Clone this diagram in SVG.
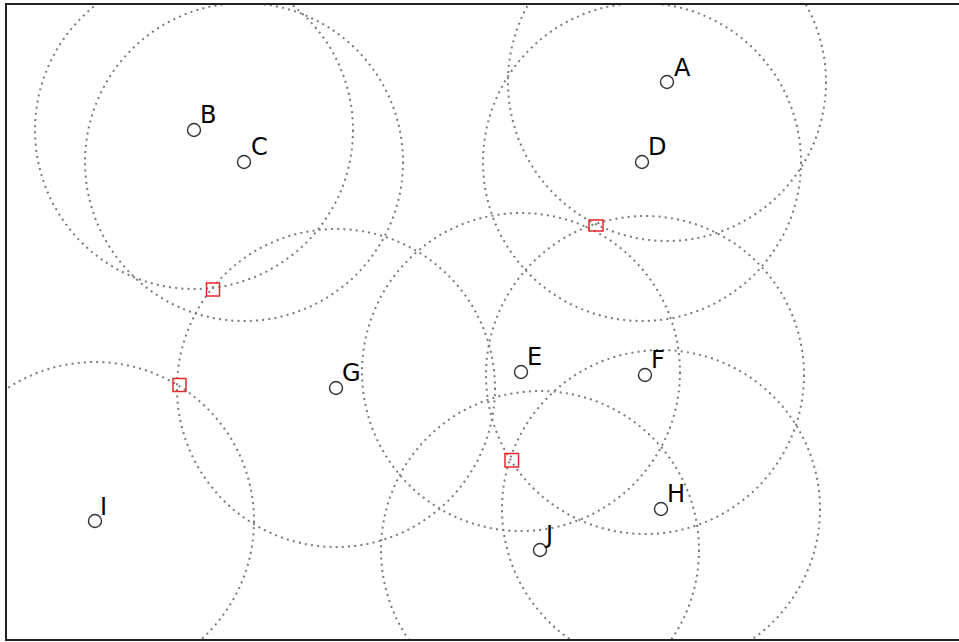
<svg xmlns="http://www.w3.org/2000/svg" width="959" height="642" viewBox="0 0 959 642">
<style>
.rng{fill:none;stroke:#7a7a7a;stroke-width:2;stroke-dasharray:2 4.2;stroke-linecap:butt}
.pt{fill:none;stroke:#333;stroke-width:1.4}
.lbl{font-family:"DejaVu Sans",sans-serif;font-size:24px;fill:#000}
.sq{fill:none;stroke:#e8262a;stroke-width:1.5}
</style>
<defs><clipPath id="ax"><rect x="6" y="4" width="954" height="636"/></clipPath></defs>
<rect width="959" height="642" fill="#fff"/>
<g id="ranges" clip-path="url(#ax)">
<circle class="rng" cx="667" cy="82" r="159"/>
<circle class="rng" cx="194" cy="130" r="159"/>
<circle class="rng" cx="244" cy="162" r="159"/>
<circle class="rng" cx="642" cy="162" r="159"/>
<circle class="rng" cx="521" cy="372" r="159"/>
<circle class="rng" cx="645" cy="375" r="159"/>
<circle class="rng" cx="336" cy="388" r="159"/>
<circle class="rng" cx="661" cy="509" r="159"/>
<circle class="rng" cx="95" cy="521" r="159"/>
<circle class="rng" cx="540" cy="550" r="159"/>
</g>
<g id="connectors"/>
<g id="A"><circle class="pt" cx="667" cy="82" r="6.5"/><text class="lbl" x="674" y="76">A</text></g>
<g id="B"><circle class="pt" cx="194" cy="130" r="6.5"/><text class="lbl" x="200" y="123">B</text></g>
<g id="C"><circle class="pt" cx="244" cy="162" r="6.5"/><text class="lbl" x="251" y="155">C</text></g>
<g id="D"><circle class="pt" cx="642" cy="162" r="6.5"/><text class="lbl" x="648" y="155">D</text></g>
<g id="E"><circle class="pt" cx="521" cy="372" r="6.5"/><text class="lbl" x="527" y="365">E</text></g>
<g id="F"><circle class="pt" cx="645" cy="375" r="6.5"/><text class="lbl" x="651" y="368">F</text></g>
<g id="G"><circle class="pt" cx="336" cy="388" r="6.5"/><text class="lbl" x="342" y="381">G</text></g>
<g id="H"><circle class="pt" cx="661" cy="509" r="6.5"/><text class="lbl" x="667" y="502">H</text></g>
<g id="I"><circle class="pt" cx="95" cy="521" r="6.5"/><text class="lbl" x="100" y="515">I</text></g>
<g id="J"><circle class="pt" cx="540" cy="550" r="6.5"/><text class="lbl" x="546" y="543">J</text></g>
<g id="intersections">
<rect class="sq" x="206.5" y="283" width="13" height="13"/>
<rect class="sq" x="173" y="378.5" width="13" height="13"/>
<rect class="sq" x="589" y="220" width="14" height="11"/>
<rect class="sq" x="505" y="453.5" width="13.5" height="13.5"/>
</g>
<rect id="frame" x="6" y="4" width="954" height="636" fill="none" stroke="#222" stroke-width="2"/>
</svg>
